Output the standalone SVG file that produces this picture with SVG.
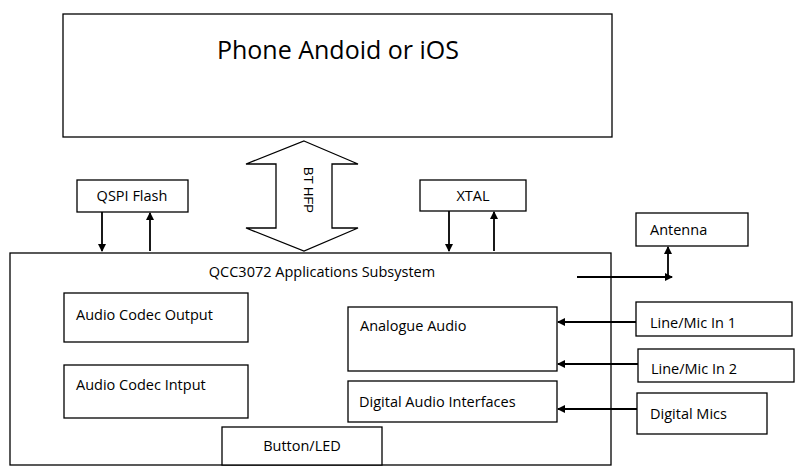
<svg xmlns="http://www.w3.org/2000/svg" width="802" height="475" viewBox="0 0 802 475">
<defs>
<style>
.b{fill:#fff;stroke:#000;stroke-width:1.3}
.t{font-family:"Open Sans","Liberation Sans",sans-serif;font-size:14.5px;fill:#000}
.l{stroke:#000;stroke-width:1.8;fill:none}
</style>
<marker id="a" markerWidth="8" markerHeight="8" refX="7" refY="4" orient="auto" markerUnits="userSpaceOnUse" viewBox="0 0 8 8"><path d="M0,0 L8,4 L0,8 z" fill="#000"/></marker>
</defs>
<rect width="802" height="475" fill="#fff"/>
<g id="phone"><rect class="b" x="63" y="14" width="549" height="123"/><text class="t" x="338" y="59" style="font-size:25px" text-anchor="middle">Phone Andoid or iOS</text></g>
<g id="qcc"><rect class="b" x="10" y="253" width="601" height="212"/><text class="t" x="322" y="277" text-anchor="middle">QCC3072 Applications Subsystem</text></g>
<g id="bthfp"><path class="b" d="M304,141 L358,164 L332,164 L332,228 L358,228 L304,251 L246,228 L276,228 L276,164 L246,164 Z"/><text x="0" y="0" style="font-family:'Liberation Sans',sans-serif;font-size:13px" transform="translate(304,190) rotate(90)" text-anchor="middle">BT HFP</text></g>
<g id="qspi"><rect class="b" x="77" y="180" width="111" height="32"/><text class="t" x="132" y="201" text-anchor="middle">QSPI Flash</text></g>
<g id="xtal"><rect class="b" x="420" y="180" width="106" height="31"/><text class="t" x="473" y="201" text-anchor="middle">XTAL</text></g>
<g id="antenna"><rect class="b" x="636" y="213" width="112" height="33"/><text class="t" x="650" y="235">Antenna</text></g>
<g id="acout"><rect class="b" x="64" y="293" width="184" height="49"/><text class="t" x="76" y="320">Audio Codec Output</text></g>
<g id="acin"><rect class="b" x="64" y="365" width="184" height="53"/><text class="t" x="76" y="390">Audio Codec Intput</text></g>
<g id="analogue"><rect class="b" x="348" y="307" width="209" height="64"/><text class="t" x="360" y="331">Analogue Audio</text></g>
<g id="dai"><rect class="b" x="348" y="381" width="209" height="41"/><text class="t" x="359" y="407">Digital Audio Interfaces</text></g>
<g id="button"><rect class="b" x="222" y="427" width="160" height="38"/><text class="t" x="302" y="451" text-anchor="middle">Button/LED</text></g>
<g id="mic1"><rect class="b" x="636" y="302" width="156" height="34"/><text class="t" x="650" y="328">Line/Mic In 1</text></g>
<g id="mic2"><rect class="b" x="638" y="349" width="156" height="33"/><text class="t" x="651" y="374">Line/Mic In 2</text></g>
<g id="dmics"><rect class="b" x="637" y="393" width="130" height="41"/><text class="t" x="650" y="419">Digital Mics</text></g>
<g id="connectors">
<line class="l" x1="102" y1="212" x2="102" y2="251" marker-end="url(#a)"/>
<line class="l" x1="150" y1="251" x2="150" y2="213" marker-end="url(#a)"/>
<line class="l" x1="449" y1="211" x2="449" y2="251" marker-end="url(#a)"/>
<line class="l" x1="494" y1="251" x2="494" y2="212" marker-end="url(#a)"/>
<line class="l" x1="577" y1="277" x2="672" y2="277" marker-end="url(#a)"/>
<line class="l" x1="668" y1="277" x2="668" y2="247" marker-end="url(#a)"/>
<line class="l" x1="636" y1="322" x2="558" y2="322" marker-end="url(#a)"/>
<line class="l" x1="638" y1="364" x2="558" y2="364" marker-end="url(#a)"/>
<line class="l" x1="637" y1="409" x2="558" y2="409" marker-end="url(#a)"/>
</g>
</svg>
